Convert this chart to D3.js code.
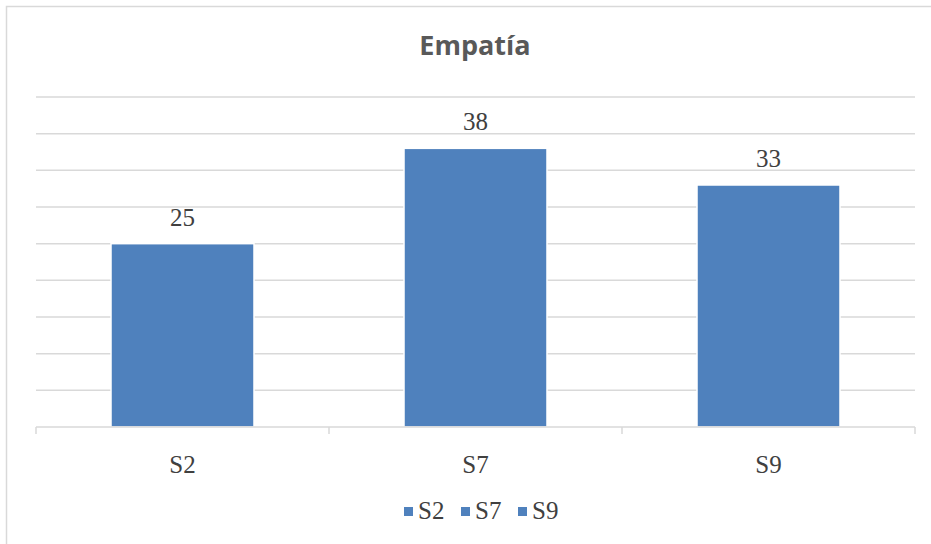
<!DOCTYPE html>
<html>
<head>
<meta charset="utf-8">
<script src="https://cdn.jsdelivr.net/npm/d3@7"></script>
<style>
  body { margin: 0; background: #fff; }
  svg { display: block; }
</style>
</head>
<body>
<svg></svg>
<script>
// chart data
const categories = ["S2", "S7", "S9"];
const values = [25, 38, 33];
const yTicks = [0, 5, 10, 15, 20, 25, 30, 35, 40, 45];
const title = "Empatía";

const width = 931, height = 544;
const margin = { left: 36, right: 16, top: 97, bottom: 117 };
const barColor = "#4f81bd";
const gridColor = "#d9d9d9";
const textColor = "#404040";

const svg = d3.select("svg")
    .attr("width", width)
    .attr("height", height);

// outer chart border (runs off the right and bottom)
svg.append("rect")
    .attr("x", 6.5)
    .attr("y", 6.5)
    .attr("width", width + 20)
    .attr("height", height + 20)
    .attr("fill", "#fff")
    .attr("stroke", gridColor)
    .attr("stroke-width", 1.5);

const x = d3.scaleBand()
    .domain(categories)
    .range([margin.left, width - margin.right])
    .paddingInner(0.512)
    .paddingOuter(0.256);

const y = d3.scaleLinear()
    .domain([0, 45])
    .range([height - margin.bottom, margin.top]);

// title
svg.append("text")
    .attr("x", 475)
    .attr("y", 55)
    .attr("text-anchor", "middle")
    .attr("font-family", "'Open Sans', sans-serif")
    .attr("font-weight", 700)
    .attr("font-size", 27)
    .attr("fill", "#595959")
    .text(title);

// gridlines
svg.append("g")
    .selectAll("line")
    .data(yTicks.filter(d => d > 0))
    .join("line")
    .attr("x1", margin.left)
    .attr("x2", width - margin.right)
    .attr("y1", d => y(d))
    .attr("y2", d => y(d))
    .attr("stroke", gridColor)
    .attr("stroke-width", 1.5);

// bars
svg.append("g")
    .selectAll("rect")
    .data(values)
    .join("rect")
    .attr("x", (d, i) => x(categories[i]))
    .attr("y", d => y(d))
    .attr("width", x.bandwidth())
    .attr("height", d => y(0) - y(d))
    .attr("fill", barColor)
    .attr("stroke", "#fff")
    .attr("stroke-width", 1.5);

// category axis
const xAxis = svg.append("g")
    .attr("transform", `translate(0,${y(0)})`);
xAxis.append("line")
    .attr("x1", margin.left)
    .attr("x2", width - margin.right)
    .attr("stroke", gridColor)
    .attr("stroke-width", 1.5);
const bounds = categories.map(c => x(c) - x.step() * x.paddingInner() / 2);
bounds.push(width - margin.right);
bounds[0] = margin.left;
xAxis.selectAll(".tick")
    .data(bounds)
    .join("line")
    .attr("class", "tick")
    .attr("x1", d => d)
    .attr("x2", d => d)
    .attr("y1", 0)
    .attr("y2", 7)
    .attr("stroke", gridColor)
    .attr("stroke-width", 1.5);
xAxis.selectAll("text")
    .data(categories)
    .join("text")
    .attr("x", d => x(d) + x.bandwidth() / 2)
    .attr("y", 46)
    .attr("text-anchor", "middle")
    .attr("font-family", "'Liberation Serif', serif")
    .attr("font-size", 25)
    .attr("fill", textColor)
    .text(d => d);

// data labels
svg.append("g")
    .selectAll("text")
    .data(values)
    .join("text")
    .attr("x", (d, i) => x(categories[i]) + x.bandwidth() / 2)
    .attr("y", d => y(d) - 18)
    .attr("text-anchor", "middle")
    .attr("font-family", "'Liberation Serif', serif")
    .attr("font-size", 25)
    .attr("fill", textColor)
    .text(d => d);

// legend
const legend = svg.append("g")
    .attr("transform", "translate(404,519)");
const item = legend.selectAll("g")
    .data(categories)
    .join("g")
    .attr("transform", (d, i) => `translate(${i * 57},0)`);
item.append("rect")
    .attr("x", 0)
    .attr("y", -12)
    .attr("width", 9)
    .attr("height", 9)
    .attr("fill", barColor);
item.append("text")
    .attr("x", 14)
    .attr("y", 0)
    .attr("font-family", "'Liberation Serif', serif")
    .attr("font-size", 25)
    .attr("fill", textColor)
    .text(d => d);
</script>
</body>
</html>
